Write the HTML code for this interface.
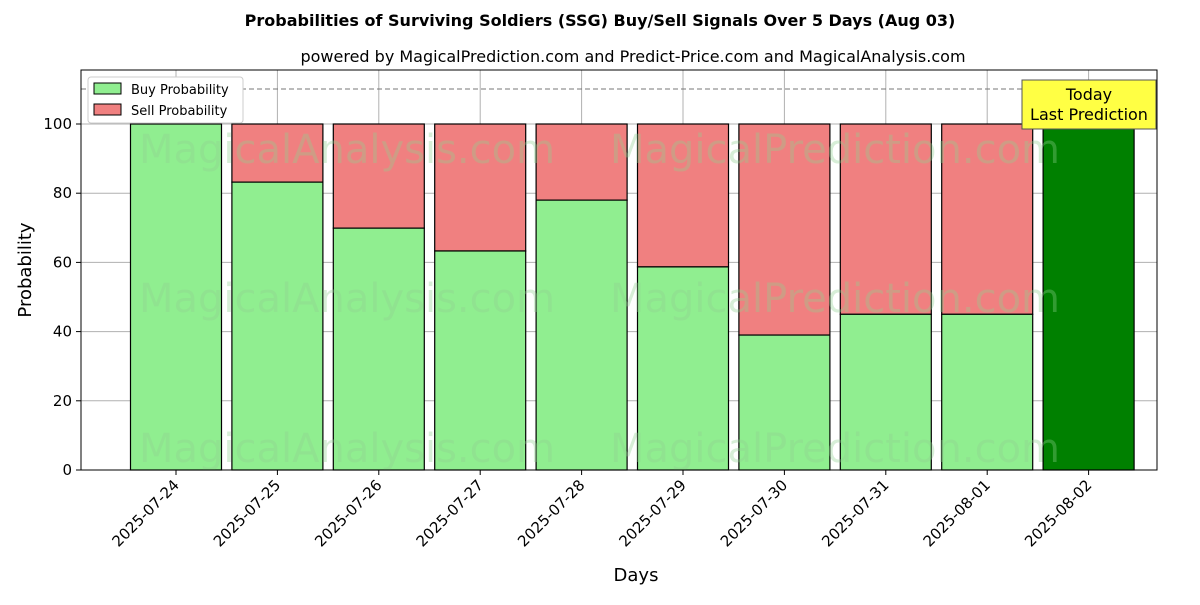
<!DOCTYPE html>
<html><head><meta charset="utf-8"><style>
body{margin:0;background:#fff;font-family:"Liberation Sans","DejaVu Sans",sans-serif}
</style></head><body>
<svg id="chart" width="1200" height="600" xmlns="http://www.w3.org/2000/svg" font-family="'DejaVu Sans','Liberation Sans',sans-serif">
<rect width="1200" height="600" fill="#fff"/>
<text x="600" y="26" text-anchor="middle" font-size="16" font-weight="bold">Probabilities of Surviving Soldiers (SSG) Buy/Sell Signals Over 5 Days (Aug 03)</text>
<text x="633" y="62" text-anchor="middle" font-size="16">powered by MagicalPrediction.com and Predict-Price.com and MagicalAnalysis.com</text>
<g id="grid"></g>
<g id="bars"></g>
<g id="wm" font-size="40" fill="#90d090" opacity="0.35">
<text x="347" y="163" text-anchor="middle">MagicalAnalysis.com</text>
<text x="835" y="163" text-anchor="middle">MagicalPrediction.com</text>
<text x="347" y="312" text-anchor="middle">MagicalAnalysis.com</text>
<text x="835" y="312" text-anchor="middle">MagicalPrediction.com</text>
<text x="347" y="462" text-anchor="middle">MagicalAnalysis.com</text>
<text x="835" y="462" text-anchor="middle">MagicalPrediction.com</text>
</g>
<line x1="81" x2="1157" y1="89" y2="89" stroke="#777" stroke-dasharray="5,3"/>
<rect x="81" y="70" width="1076" height="400" fill="none" stroke="#000"/>
<g id="axes" font-size="15"></g>
<text x="636" y="581" text-anchor="middle" font-size="18">Days</text>
<text transform="translate(31,270) rotate(-90)" text-anchor="middle" font-size="18">Probability</text>
<g>
<rect x="88" y="77" width="155" height="46" fill="#fff" stroke="#ccc" rx="3"/>
<rect x="94" y="83" width="27" height="11" fill="#90ee90" stroke="#000"/>
<text x="131" y="94" font-size="13">Buy Probability</text>
<rect x="94" y="104" width="27" height="11" fill="#f08080" stroke="#000"/>
<text x="131" y="115" font-size="13">Sell Probability</text>
</g>
<g>
<rect x="1022" y="80" width="134" height="49" fill="#ffff44" stroke="#555"/>
<text x="1089" y="100" text-anchor="middle" font-size="16">Today</text>
<text x="1089" y="120" text-anchor="middle" font-size="16">Last Prediction</text>
</g>
</svg>
<script>
const categories=["2025-07-24","2025-07-25","2025-07-26","2025-07-27","2025-07-28","2025-07-29","2025-07-30","2025-07-31","2025-08-01","2025-08-02"];
const buyValues=[100,83.2,69.9,63.3,78,58.7,39,45,45,100];
const yTicks=[0,20,40,60,80,100];
const NS="http://www.w3.org/2000/svg";
const x0=81,x1=1157,yBase=470,pxPerUnit=3.46;
const step=(x1-x0)/ (categories.length+0.6);
function xs(i){return 176+i*101.4;}
function ys(v){return yBase-v*pxPerUnit;}
function mk(t,a,p){const e=document.createElementNS(NS,t);for(const k in a)e.setAttribute(k,a[k]);p.appendChild(e);return e;}
const grid=document.getElementById('grid'),bars=document.getElementById('bars'),axes=document.getElementById('axes');
yTicks.forEach(v=>{
 const l=mk('line',{x1:x0,x2:x1,y1:ys(v),y2:ys(v),stroke:'#b0b0b0'},grid);
 
 
 mk('line',{x1:x0-5,x2:x0,y1:ys(v),y2:ys(v),stroke:'#000'},axes);
 const t=mk('text',{x:x0-9,y:ys(v)+5,'text-anchor':'end'},axes);t.textContent=v;
 
 
});
categories.forEach((c,i)=>{
 const cx=xs(i);
 const g=mk('line',{x1:cx,x2:cx,y1:70,y2:yBase,stroke:'#b0b0b0'},grid);
 
 
 const w=91,last=i===categories.length-1;
 const b=buyValues[i];
 const sell=mk('rect',{x:cx-w/2,y:ys(100),width:w,height:ys(b)-ys(100),fill:'#f08080',stroke:'#000','stroke-width':1.2},bars);
 
 
 const buy=mk('rect',{x:cx-w/2,y:ys(b),width:w,height:yBase-ys(b),fill:last?'#008000':'#90ee90',stroke:'#000','stroke-width':1.2},bars);
 
 
 mk('line',{x1:cx,x2:cx,y1:yBase,y2:yBase+5,stroke:'#000'},axes);
 const t=mk('text',{x:cx+4,y:yBase+16,'text-anchor':'end',transform:`rotate(-45 ${cx+4} ${yBase+16})`},axes);
 t.textContent=c;
 
 
});
</script>
</body></html>
